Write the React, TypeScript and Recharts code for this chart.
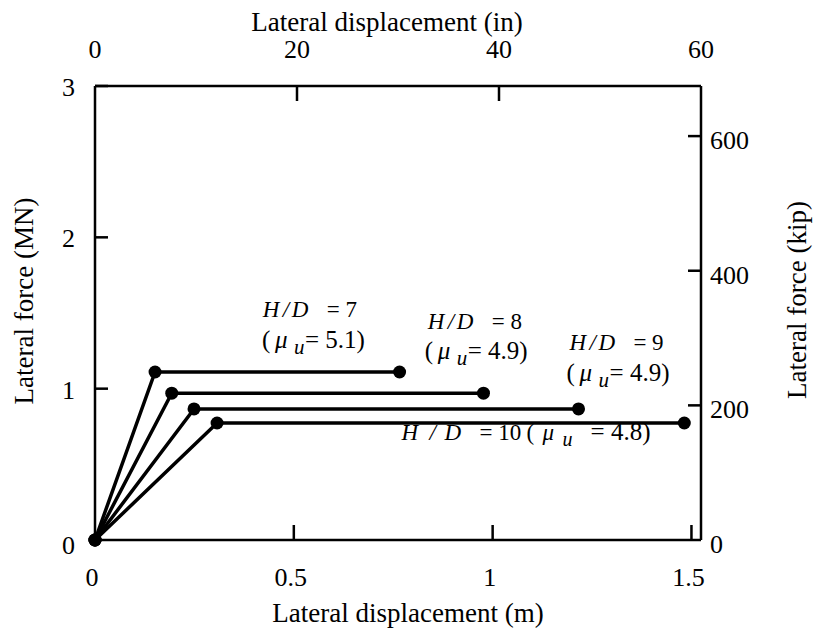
import React from "react";
import { LineChart, Line, XAxis, YAxis, ReferenceDot, ReferenceLine } from "recharts";

const FONT = '"Liberation Serif", "Times New Roman", Times, serif';

// unit conversions for the secondary axes
const IN_PER_M = 1 / 0.0254;
const KIP_PER_MN = 224.809;

const X_MAX_M = 1.524;
const Y_MAX_MN = 3;

const mTicks = [0, 0.5, 1, 1.5];
const inTicks = [0, 20, 40, 60];
const mnTicks = [0, 1, 2, 3];
const kipTicks = [0, 200, 400, 600];

// d = displacement (m), f = force (MN)
const hd7 = [
    { d: 0, f: 0 },
    { d: 0.151, f: 1.11 },
    { d: 0.766, f: 1.11 },
];
const hd8 = [
    { d: 0, f: 0 },
    { d: 0.193, f: 0.97 },
    { d: 0.977, f: 0.97 },
];
const hd9 = [
    { d: 0, f: 0 },
    { d: 0.249, f: 0.866 },
    { d: 1.216, f: 0.866 },
];
const hd10 = [
    { d: 0, f: 0 },
    { d: 0.307, f: 0.773 },
    { d: 1.482, f: 0.773 },
];

const seriesList = [hd7, hd8, hd9, hd10];

// same curve in inches / kip, hidden, only so the secondary axes get ticks
const hd10Imperial = hd10.map((p) => ({ d: p.d * IN_PER_M, f: p.f * KIP_PER_MN }));

// labels, anchored in data units (m, MN)
const annotations = [
    { x: 0.422, y: 1.474, hd: "7" },
    { x: 0.42, y: 1.269, mu: "5.1" },
    { x: 0.837, y: 1.395, hd: "8" },
    { x: 0.829, y: 1.196, mu: "4.9" },
    { x: 1.193, y: 1.256, hd: "9" },
    { x: 1.186, y: 1.051, mu: "4.9" },
    { x: 0.771, y: 0.661, hd: "10", mu: "4.8" },
];

const W = 814;
const H = 629;
const MARGIN = { top: 46, right: 73, bottom: 49, left: 55 };
const AXIS_W = 40;
const AXIS_H = 40;
// plot box edges
const P_LEFT = MARGIN.left + AXIS_W;
const P_RIGHT = W - MARGIN.right - AXIS_W;
const P_TOP = MARGIN.top + AXIS_H;
const P_BOTTOM = H - MARGIN.bottom - AXIS_H;

// inward tick lengths, turned into data units
const TICK_V = (15 * Y_MAX_MN) / (P_BOTTOM - P_TOP);
const bottomTickSegs = mTicks
    .filter((v) => v > 0 && v < X_MAX_M)
    .map((v) => [{ x: v, y: 0 }, { x: v, y: TICK_V }]);
const topTickSegs = inTicks
    .map((v) => v / IN_PER_M)
    .filter((v) => v > 0 && v < X_MAX_M - 0.01)
    .map((v) => [{ x: v, y: Y_MAX_MN }, { x: v, y: Y_MAX_MN - TICK_V }]);

const tickText = { fontFamily: FONT, fontSize: 26, fill: "#000" };

const BottomTick = ({ payload }: any) => (
    <text x={payload.coordinate - 3} y={P_BOTTOM + 46} textAnchor="middle" {...tickText}>
        {payload.value}
    </text>
);

const TopTick = ({ payload }: any) => (
    <text x={payload.coordinate} y={P_TOP - 28} textAnchor="middle" {...tickText}>
        {payload.value}
    </text>
);

const LeftTick = ({ payload }: any) => {
    const y = payload.coordinate;
    return (
        <g>
            {payload.value !== 0 && <rect x={P_LEFT} y={y - 1.25} width={13} height={2.5} fill="#000" />}
            <text x={P_LEFT - 20} y={y + (payload.value === 0 ? 14 : 10)} textAnchor="end" {...tickText}>
                {payload.value}
            </text>
        </g>
    );
};

const RightTick = ({ payload }: any) => {
    const y = payload.coordinate;
    return (
        <g>
            {payload.value !== 0 && <rect x={P_RIGHT - 13} y={y - 1.25} width={13} height={2.5} fill="#000" />}
            <text x={P_RIGHT + 9} y={y + 13} textAnchor="start" {...tickText}>
                {payload.value}
            </text>
        </g>
    );
};

// H/D line and (mu_u = ...) line; glyph offsets follow the original spacing
const Annotation = ({ cx, cy, hd, mu }: any) => {
    if (hd && mu) {
        return (
            <text y={cy} fontFamily={FONT} fontSize={23} fill="#000">
                <tspan x={cx} fontStyle="italic">H</tspan>
                <tspan x={cx + 28} fontStyle="italic">/</tspan>
                <tspan x={cx + 43} fontStyle="italic">D</tspan>
                <tspan x={cx + 78}>= {hd}</tspan>
                <tspan x={cx + 125}>(</tspan>
                <tspan x={cx + 141} fontStyle="italic">μ</tspan>
                <tspan x={cx + 161} y={cy + 6} fontStyle="italic" fontSize={20}>u</tspan>
                <tspan x={cx + 189} y={cy} fontSize={25}>= {mu})</tspan>
            </text>
        );
    }
    if (hd) {
        return (
            <text y={cy} fontFamily={FONT} fontSize={23} fill="#000">
                <tspan x={cx} fontStyle="italic">H</tspan>
                <tspan x={cx + 20} fontStyle="italic">/</tspan>
                <tspan x={cx + 29} fontStyle="italic">D</tspan>
                <tspan x={cx + 64}>= {hd}</tspan>
            </text>
        );
    }
    return (
        <text y={cy} fontFamily={FONT} fontSize={25} fill="#000">
            <tspan x={cx}>(</tspan>
            <tspan x={cx + 13} fontStyle="italic">μ</tspan>
            <tspan x={cx + 32} y={cy + 6} fontStyle="italic" fontSize={21}>u</tspan>
            <tspan x={cx + 43} y={cy}>= {mu})</tspan>
        </text>
    );
};

const axisLine = { stroke: "#000", strokeWidth: 2.5 };

export default function App() {
    return (
        <div style={{ position: "absolute", left: 0, top: 0, width: W, height: H, background: "#fff" }}>
            <LineChart width={W} height={H} margin={MARGIN}>
                <XAxis
                    xAxisId="m"
                    dataKey="d"
                    type="number"
                    domain={[0, X_MAX_M]}
                    ticks={mTicks}
                    interval={0}
                    height={AXIS_H}
                    tickSize={0}
                    tickMargin={0}
                    axisLine={axisLine}
                    tickLine={false}
                    tick={(p: any) => <BottomTick {...p} />}
                />
                <XAxis
                    xAxisId="in"
                    dataKey="d"
                    orientation="top"
                    type="number"
                    domain={[0, X_MAX_M * IN_PER_M]}
                    ticks={inTicks}
                    interval={0}
                    height={AXIS_H}
                    tickSize={0}
                    tickMargin={0}
                    axisLine={axisLine}
                    tickLine={false}
                    tick={(p: any) => <TopTick {...p} />}
                />
                <YAxis
                    yAxisId="mn"
                    type="number"
                    domain={[0, Y_MAX_MN]}
                    ticks={mnTicks}
                    interval={0}
                    width={AXIS_W}
                    tickSize={0}
                    tickMargin={0}
                    axisLine={axisLine}
                    tickLine={false}
                    tick={(p: any) => <LeftTick {...p} />}
                />
                <YAxis
                    yAxisId="kip"
                    orientation="right"
                    type="number"
                    domain={[0, Y_MAX_MN * KIP_PER_MN]}
                    ticks={kipTicks}
                    interval={0}
                    width={AXIS_W}
                    tickSize={0}
                    tickMargin={0}
                    axisLine={axisLine}
                    tickLine={false}
                    tick={(p: any) => <RightTick {...p} />}
                />
                {[...bottomTickSegs, ...topTickSegs].map((seg, i) => (
                    <ReferenceLine
                        key={`t${i}`}
                        xAxisId="m"
                        yAxisId="mn"
                        segment={seg}
                        stroke="#000"
                        strokeWidth={2.5}
                        ifOverflow="visible"
                    />
                ))}
                <Line
                    xAxisId="in"
                    yAxisId="kip"
                    data={hd10Imperial}
                    dataKey="f"
                    stroke="none"
                    dot={false}
                    activeDot={false}
                    isAnimationActive={false}
                />
                {seriesList.map((s, i) => (
                    <Line
                        key={i}
                        xAxisId="m"
                        yAxisId="mn"
                        data={s}
                        dataKey="f"
                        type="linear"
                        stroke="#000"
                        strokeWidth={3.5}
                        dot={{ r: 6.5, fill: "#000", stroke: "#000", strokeWidth: 0, clipDot: false }}
                        activeDot={false}
                        isAnimationActive={false}
                    />
                ))}
                {annotations.map((a, i) => (
                    <ReferenceDot
                        key={i}
                        xAxisId="m"
                        yAxisId="mn"
                        x={a.x}
                        y={a.y}
                        r={0}
                        shape={(p: any) => <Annotation cx={p.cx} cy={p.cy} hd={a.hd} mu={a.mu} />}
                    />
                ))}
            </LineChart>
            <svg
                width={W}
                height={H}
                style={{ position: "absolute", left: 0, top: 0, pointerEvents: "none" }}
            >
                <g fontFamily={FONT} fontSize={27} fill="#000">
                    <text x={387} y={31} textAnchor="middle">Lateral displacement (in)</text>
                    <text x={408} y={622} textAnchor="middle">Lateral displacement (m)</text>
                    <text transform="translate(33,301) rotate(-90)" textAnchor="middle">Lateral force (MN)</text>
                    <text transform="translate(806,300) rotate(-90)" textAnchor="middle">Lateral force (kip)</text>
                </g>
            </svg>
        </div>
    );
}
